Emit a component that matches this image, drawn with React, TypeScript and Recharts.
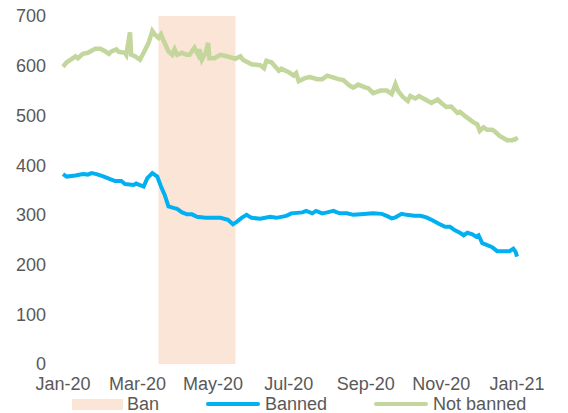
import { LineChart, Line, XAxis, YAxis, ReferenceArea, Legend } from "recharts"

// days counted from 1 Jan 2020
const tickDays = [0, 60, 121, 182, 244, 305, 366]
const tickLabels = ["Jan-20", "Mar-20", "May-20", "Jul-20", "Sep-20", "Nov-20", "Jan-21"]
const yTicks = [0, 100, 200, 300, 400, 500, 600, 700]
const banStart = 77
const banEnd = 139

const bannedDays = [
  0, 3, 10, 16, 20, 23, 27, 33, 38, 42, 47, 50, 57, 59, 62, 65, 68, 72, 76, 79, 82, 85, 89, 92, 96, 100, 104, 108,
  115, 122, 127, 133, 137, 140, 144, 148, 152, 159, 167, 172, 180, 184, 193, 196, 201, 204, 209, 213, 218, 223, 229,
  234, 240, 245, 250, 257, 261, 265, 268, 273, 277, 283, 288, 293, 297, 303, 308, 312, 316, 320, 323, 326, 330, 333,
  335, 338, 342, 346, 350, 355, 360, 363, 365, 366,
]
const bannedValues = [
  382, 377, 379, 382, 381, 384, 382, 377, 372, 368, 368, 362, 360, 363, 360, 357, 374, 384, 377, 357, 340, 317, 314,
  312, 305, 301, 301, 296, 294, 294, 294, 290, 281, 286, 294, 300, 294, 292, 296, 294, 298, 303, 305, 308, 303, 308,
  303, 305, 308, 303, 303, 300, 301, 302, 303, 302, 298, 293, 295, 302, 300, 298, 298, 295, 290, 282, 276, 276, 269,
  264, 259, 264, 261, 256, 259, 243, 239, 235, 227, 227, 227, 232, 225, 216,
]

const notBannedDays = [
  0, 3, 8, 10, 12, 16, 20, 26, 30, 34, 37, 39, 43, 45, 50, 51, 54, 55, 58, 62, 65, 69, 72, 74, 77, 79, 81, 85, 88, 90,
  92, 96, 100, 102, 106, 109, 110, 112, 115, 117, 118, 122, 127, 132, 139, 143, 145, 152, 159, 162, 164, 168, 174, 176,
  182, 186, 188, 190, 195, 199, 205, 209, 213, 217, 222, 226, 231, 234, 238, 244, 246, 250, 256, 261, 265, 268, 270,
  274, 278, 280, 284, 287, 292, 297, 302, 305, 309, 313, 318, 320, 325, 331, 334, 336, 339, 342, 346, 348, 352, 358,
  362, 365, 366,
]
const notBannedValues = [
  598, 607, 615, 619, 615, 624, 626, 634, 634, 629, 624, 629, 633, 628, 626, 622, 667, 622, 619, 612, 626, 646, 670,
  663, 656, 663, 651, 629, 622, 633, 622, 626, 622, 622, 636, 622, 633, 612, 626, 646, 615, 615, 622, 619, 614, 619,
  612, 603, 601, 595, 610, 607, 590, 594, 587, 580, 585, 569, 575, 577, 573, 573, 580, 577, 573, 571, 560, 556, 562,
  556, 555, 545, 550, 550, 543, 563, 550, 537, 529, 539, 534, 539, 532, 525, 532, 525, 517, 518, 505, 507, 497, 486,
  482, 469, 476, 471, 471, 468, 459, 450, 450, 453, 449,
]

const bannedData = bannedDays.map((d, i) => ({ d, v: bannedValues[i] }))
const notBannedData = notBannedDays.map((d, i) => ({ d, v: notBannedValues[i] }))

const FONT = '"Liberation Sans", Arial, sans-serif'
const TEXT = "#595959"
const BLUE = "#00B0F0"
const GREEN = "#C3D69B"
const BAN = "#FBE5D6"

function ChartLegend() {
  const label = { fontSize: 18, color: TEXT, fontFamily: FONT, lineHeight: "18px" }
  return (
    <div style={{ display: "flex", alignItems: "center", paddingLeft: 72, gap: 47 }}>
      <div style={{ display: "flex", alignItems: "center", gap: 4 }}>
        <div style={{ width: 51, height: 11, background: BAN }} />
        <span style={label}>Ban</span>
      </div>
      <div style={{ display: "flex", alignItems: "center", gap: 5 }}>
        <div style={{ width: 54, height: 4, borderRadius: 2, background: BLUE }} />
        <span style={label}>Banned</span>
      </div>
      <div style={{ display: "flex", alignItems: "center", gap: 5 }}>
        <div style={{ width: 54, height: 4, borderRadius: 2, background: GREEN }} />
        <span style={label}>Not banned</span>
      </div>
    </div>
  )
}

export default function App() {
  return (
    <div style={{ position: "absolute", left: 0, top: 0, width: 568, height: 413, overflow: "hidden", background: "#fff" }}>
      <LineChart width={568} height={430} margin={{ top: 16, right: 51, left: 0, bottom: 36 }}>
        <XAxis
          dataKey="d"
          type="number"
          domain={[0, 366]}
          ticks={tickDays}
          tickFormatter={(v: number) => tickLabels[tickDays.indexOf(v)]}
          axisLine={false}
          tickLine={false}
          tickSize={0}
          tickMargin={13}
          interval={0}
          height={30}
          tick={{ fill: TEXT, fontSize: 18, fontFamily: FONT }}
        />
        <YAxis
          type="number"
          domain={[0, 700]}
          ticks={yTicks}
          width={63}
          axisLine={false}
          tickLine={false}
          tickSize={0}
          tickMargin={17}
          tick={{ fill: TEXT, fontSize: 18, fontFamily: FONT }}
        />
        <ReferenceArea x1={banStart} x2={banEnd} y1={0} y2={700} fill={BAN} fillOpacity={1} stroke="none" />
        <Line
          data={notBannedData}
          dataKey="v"
          type="linear"
          stroke={GREEN}
          strokeWidth={4.5}
          dot={false}
          isAnimationActive={false}
        />
        <Line
          data={bannedData}
          dataKey="v"
          type="linear"
          stroke={BLUE}
          strokeWidth={4}
          dot={false}
          isAnimationActive={false}
        />
        <Legend
          layout="horizontal"
          verticalAlign="middle"
          align="center"
          content={() => <ChartLegend />}
          wrapperStyle={{ top: 395, left: 0, width: 568 }}
        />
      </LineChart>
    </div>
  )
}
